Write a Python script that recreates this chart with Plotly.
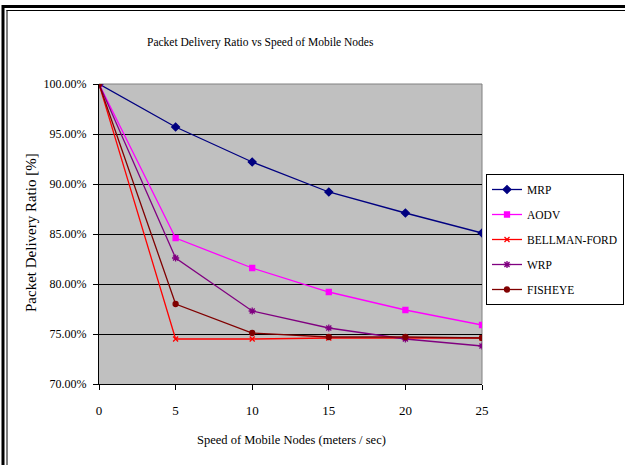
import plotly.graph_objects as go

speeds = [0, 5, 10, 15, 20, 25]
mrp = [100.0, 95.7, 92.2, 89.2, 87.1, 85.1]
aodv = [100.0, 84.6, 81.6, 79.2, 77.4, 75.9]
bellman_ford = [100.0, 74.5, 74.5, 74.6, 74.6, 74.6]
wrp = [100.0, 82.6, 77.3, 75.6, 74.5, 73.8]
fisheye = [100.0, 78.0, 75.1, 74.7, 74.7, 74.6]

series = [
    ("MRP", mrp, "#000080", "diamond", 6),
    ("AODV", aodv, "#FF00FF", "square", 5),
    ("BELLMAN-FORD", bellman_ford, "#FF0000", "x-thin-open", 5),
    ("WRP", wrp, "#800080", "asterisk-open", 6),
    ("FISHEYE", fisheye, "#800000", "circle", 5),
]

FONT = "Liberation Serif, Times New Roman, serif"
fig = go.Figure()
for i, (name, vals, color, sym, size) in enumerate(series):
    fig.add_trace(go.Scatter(
        x=speeds, y=vals, name=name, mode="lines+markers",
        line=dict(color=color, width=1.3),
        marker=dict(symbol=sym, size=size, color=color,
                    line=dict(color=color, width=1.3)),
        legendgroup=f"g{i}",
    ))

L, R, T, B = 99, 143, 84, 81
W, H = 625, 465
pw, ph = W - L - R, H - T - B

def px_x(p):
    return (p - L) / pw

def px_y(p):
    return (H - B - p) / ph

shapes = [
    dict(type="line", xref="paper", yref="paper", x0=0, x1=1, y0=1, y1=1,
         line=dict(color="#808080", width=1), layer="between"),
    dict(type="line", xref="paper", yref="paper", x0=1, x1=1, y0=0, y1=1,
         line=dict(color="#808080", width=1), layer="between"),
    dict(type="line", xref="paper", yref="paper", x0=px_x(3), x1=px_x(3),
         y0=px_y(5), y1=px_y(475), line=dict(color="black", width=3)),
    dict(type="line", xref="paper", yref="paper", x0=px_x(7), x1=px_x(7),
         y0=px_y(10), y1=px_y(475), line=dict(color="black", width=1)),
    dict(type="line", xref="paper", yref="paper", x0=px_x(2), x1=px_x(640),
         y0=px_y(6.5), y1=px_y(6.5), line=dict(color="black", width=3)),
    dict(type="line", xref="paper", yref="paper", x0=px_x(6.5), x1=px_x(640),
         y0=px_y(10.5), y1=px_y(10.5), line=dict(color="black", width=1)),
]

fig.update_layout(
    width=W, height=H,
    margin=dict(l=L, r=R, t=T, b=B, autoexpand=False),
    paper_bgcolor="white",
    plot_bgcolor="#C0C0C0",
    font=dict(family=FONT, size=13, color="black"),
    showlegend=True,
    legend=dict(x=px_x(486), y=px_y(174), xanchor="left", yanchor="top",
                bgcolor="white", bordercolor="black", borderwidth=1,
                font=dict(family=FONT, size=11.5), traceorder="grouped",
                tracegroupgap=6, itemwidth=30),
    shapes=shapes,
    annotations=[
        dict(text="Packet Delivery Ratio vs Speed of Mobile Nodes",
             xref="paper", yref="paper", x=px_x(260), y=px_y(43),
             xanchor="center", yanchor="middle", showarrow=False,
             font=dict(family=FONT, size=11.5)),
        dict(text="Packet Delivery Ratio [%]",
             xref="paper", yref="paper", x=px_x(31), y=px_y(233),
             xanchor="center", yanchor="middle", showarrow=False,
             textangle=-90, font=dict(family=FONT, size=15)),
        dict(text="Speed of Mobile Nodes (meters / sec)",
             xref="paper", yref="paper", x=px_x(291), y=px_y(440),
             xanchor="center", yanchor="middle", showarrow=False,
             font=dict(family=FONT, size=12.5)),
    ],
)

fig.update_xaxes(
    range=[0, 25], tickvals=speeds, ticks="outside", ticklen=5,
    tickcolor="black", showline=True, linecolor="black", linewidth=1,
    showgrid=False, zeroline=False, tickfont=dict(family=FONT, size=13),
    ticklabelstandoff=9,
)
fig.update_yaxes(
    range=[70, 100], tickvals=[70, 75, 80, 85, 90, 95, 100],
    ticktext=["70.00%", "75.00%", "80.00%", "85.00%", "90.00%", "95.00%", "100.00%"],
    ticks="outside", ticklen=5, tickcolor="black",
    showline=True, linecolor="black", linewidth=1,
    showgrid=True, gridcolor="black", gridwidth=1, zeroline=False,
    tickfont=dict(family=FONT, size=12), ticklabelstandoff=4,
)

fig.write_html("out.html", config={"displayModeBar": False},
               post_script="document.body.style.margin='0';")
